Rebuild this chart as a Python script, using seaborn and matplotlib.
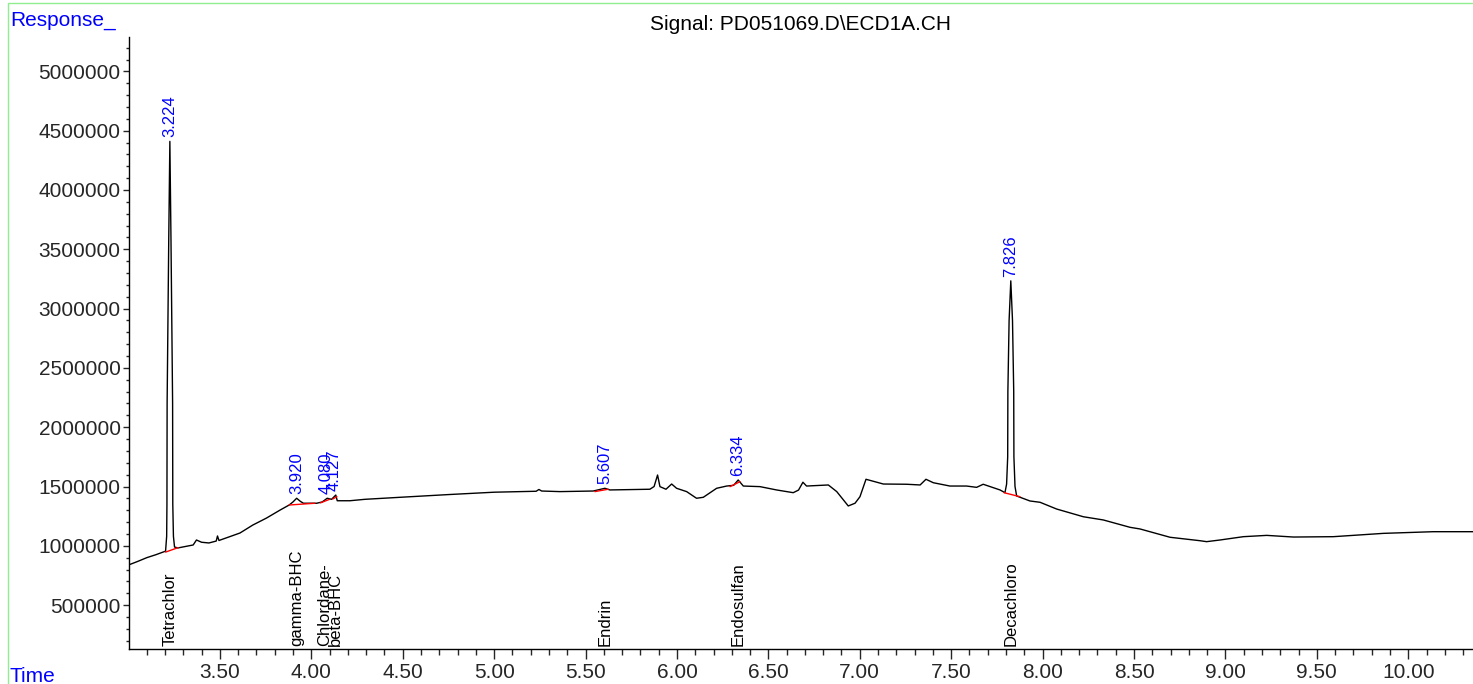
import matplotlib
matplotlib.use('Agg')
import matplotlib.pyplot as plt
import matplotlib.patches as mpatches
from matplotlib.ticker import MultipleLocator, FuncFormatter
import pandas as pd
import seaborn as sns

# chromatogram trace (time in min, response)
times = [3.003, 3.05, 3.10, 3.15, 3.203, 3.209, 3.2105, 3.2115, 3.2205, 3.2265, 3.2325, 3.2415,
         3.2425, 3.246, 3.252,
         3.27, 3.354, 3.372, 3.40, 3.44, 3.48, 3.487, 3.495, 3.55, 3.61, 3.68, 3.755, 3.83, 3.879,
         3.90, 3.92, 3.94, 3.957, 4.03, 4.06, 4.087, 4.111, 4.134, 4.142, 4.211, 4.293, 4.485,
         4.75, 5.00, 5.23, 5.245, 5.26, 5.36, 5.542, 5.606, 5.633, 5.852, 5.875, 5.894, 5.907,
         5.94, 5.971, 5.998, 6.053, 6.107, 6.144, 6.217, 6.272, 6.31, 6.335, 6.363, 6.454, 6.545,
         6.636, 6.665, 6.689, 6.709, 6.828, 6.874, 6.937, 6.974, 7.001, 7.034, 7.129, 7.257,
         7.33, 7.362, 7.402, 7.493, 7.584, 7.639, 7.675, 7.767, 7.794, 7.803, 7.809, 7.810,
         7.8167, 7.826, 7.8353, 7.842, 7.843, 7.849, 7.858, 7.931, 7.986, 8.077, 8.223, 8.332,
         8.478, 8.533, 8.697, 8.861, 8.897, 8.97, 9.098, 9.226, 9.372, 9.59, 9.864, 10.136, 10.354]
response = [840000, 868000, 900000, 925000, 955000, 1080000, 1350000, 2200000, 3600000, 4410000,
            3600000, 2200000, 1350000, 1080000, 990000,
            982000, 1007000, 1049000, 1030000, 1024000, 1040000, 1083000, 1045000, 1075000,
            1108000, 1175000, 1234000, 1302000, 1344000,
            1370000, 1401000, 1375000, 1359000, 1359000, 1370000, 1401000, 1392000, 1428000,
            1380000, 1380000, 1392000, 1409000,
            1432000, 1452000, 1460000, 1475000, 1462000, 1457000, 1462000, 1485000, 1471000,
            1477000, 1500000, 1597000, 1499000,
            1477000, 1521000, 1485000, 1457000, 1401000, 1409000, 1485000, 1504000, 1510000,
            1555000, 1504000, 1499000, 1471000,
            1448000, 1470000, 1536000, 1504000, 1513000, 1457000, 1336000, 1359000, 1414000,
            1561000, 1521000, 1519000,
            1513000, 1561000, 1532000, 1504000, 1504000, 1493000, 1519000, 1471000, 1448000,
            1520000, 1750000, 2300000,
            2900000, 3234000, 2900000, 2300000, 1750000, 1500000, 1420000, 1378000, 1367000,
            1310000, 1245000, 1218000,
            1156000, 1142000, 1072000, 1043000, 1035000, 1049000, 1077000, 1088000, 1074000,
            1077000, 1105000, 1119000, 1119000]

# integrated peaks: retention time, apex response, compound name
peak_rt = [3.224, 3.920, 4.080, 4.127, 5.607, 6.334, 7.826]
peak_apex = [4410000, 1401000, 1401000, 1428000, 1485000, 1555000, 3234000]
peak_name = ['Tetrachlor', 'gamma-BHC', 'Chlordane-', 'beta-BHC', 'Endrin', 'Endosulfan', 'Decachloro']
name_rt = [3.226, 3.920, 4.075, 4.130, 5.607, 6.334, 7.826]

# red integration baselines: start time, start response, end time, end response
base_t0 = [3.203, 3.879, 4.05, 4.118, 5.551, 6.29, 7.789]
base_v0 = [947000, 1344000, 1362000, 1395000, 1457000, 1499000, 1448000]
base_t1 = [3.272, 4.02, 4.10, 4.140, 5.624, 6.345, 7.876]
base_v1 = [985000, 1359000, 1392000, 1415000, 1477000, 1541000, 1414000]

sns.set_style('white')
plt.rcParams['font.family'] = ['Liberation Sans', 'DejaVu Sans']

fig = plt.figure(figsize=(14.73, 6.84), dpi=100)
ax = fig.add_axes([129 / 1473, 1 - 649 / 684, 1 - 129 / 1473, (649 - 37) / 684])

df = pd.DataFrame({'time': times, 'response': response})
sns.lineplot(data=df, x='time', y='response', ax=ax, color='black', linewidth=1.0,
             estimator=None, sort=False)

for t0, v0, t1, v1 in zip(base_t0, base_v0, base_t1, base_v1):
    ax.plot([t0, t1], [v0, v1], color='red', linewidth=1.0)

ymin, ymax = 130000, 5290000
for rt, apex in zip(peak_rt, peak_apex):
    ax.annotate(f'{rt:.3f}', xy=(rt, apex), xytext=(0, 3), textcoords='offset points',
                rotation=90, ha='center', va='bottom', color='blue', fontsize=12)
for rt, name in zip(name_rt, peak_name):
    ax.annotate(name, xy=(rt, ymin), xytext=(0, 2), textcoords='offset points',
                rotation=90, ha='center', va='bottom', color='black', fontsize=12)

ax.set_xlim(3.003, 10.354)
ax.set_ylim(ymin, ymax)
ax.xaxis.set_major_locator(MultipleLocator(0.5))
ax.xaxis.set_minor_locator(MultipleLocator(0.1))
ax.yaxis.set_major_locator(MultipleLocator(500000))
ax.yaxis.set_minor_locator(MultipleLocator(100000))
ax.xaxis.set_major_formatter(FuncFormatter(lambda v, p: f'{v:.2f}'))
ax.yaxis.set_major_formatter(FuncFormatter(lambda v, p: f'{int(round(v))}'))
ax.tick_params(axis='x', which='major', length=7, width=1, labelsize=15, pad=3, direction='out', bottom=True)
ax.tick_params(axis='x', which='minor', length=4, width=1, direction='out', bottom=True)
ax.tick_params(axis='y', which='major', length=4, width=1, labelsize=15, pad=2, direction='out', left=True)
ax.tick_params(axis='y', which='minor', length=2.5, width=1, direction='out', left=True)
ax.set_xlabel('')
ax.set_ylabel('')
for side in ['top', 'right']:
    ax.spines[side].set_visible(False)
for side in ['left', 'bottom']:
    ax.spines[side].set_color('black')
    ax.spines[side].set_linewidth(1.0)

# light green frame along the top and left of the page
fig.patches.append(mpatches.Rectangle((8 / 1473, -0.05), 1.2, 0.05 + (684 - 3) / 684,
                                      transform=fig.transFigure, fill=False,
                                      edgecolor='#90ee90', linewidth=1.0))

fig.text(10 / 1473, 1 - 21 / 684, 'Response_', color='blue', fontsize=15, ha='left', va='center')
fig.text(10 / 1473, 1 - 677 / 684, 'Time', color='blue', fontsize=15, ha='left', va='center')
fig.text(801 / 1473, 1 - 25 / 684, 'Signal: PD051069.D\\ECD1A.CH', color='black', fontsize=15,
         ha='center', va='center')

fig.savefig('out.png', dpi=100)
